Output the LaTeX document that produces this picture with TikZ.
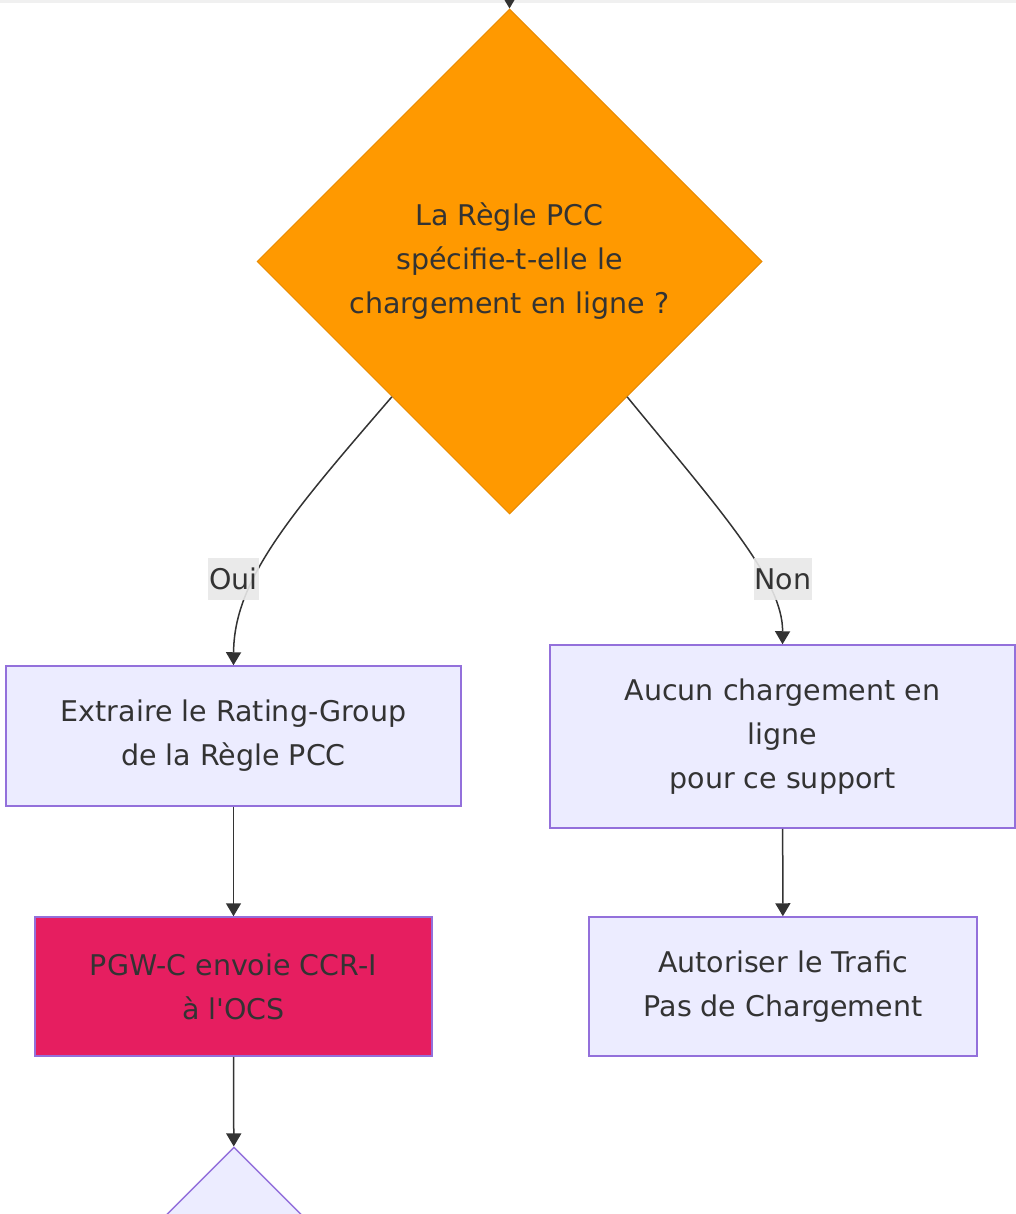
\documentclass[tikz,border=0pt]{standalone}
\usepackage{fontspec}
\setmainfont{DejaVu Sans}
\usepackage{tikz}
\usetikzlibrary{graphs}
\usetikzlibrary{arrows.meta}
\usetikzlibrary{shapes.geometric}
\usepackage{xcolor}
\definecolor{ink}{HTML}{333333}
\definecolor{lav}{HTML}{ECECFF}
\definecolor{lavline}{HTML}{9370DB}
\definecolor{orng}{HTML}{FF9900}
\definecolor{orngline}{HTML}{E88A00}
\definecolor{pink}{HTML}{E61E60}
\definecolor{lblbg}{HTML}{E8E8E8}

\begin{document}
\begin{tikzpicture}[x=1pt, y=-1pt,
        txt/.style={font=\fontsize{28.5}{44}\selectfont, text=ink, align=center},
        box/.style={txt, rectangle, draw=lavline, fill=lav, line width=1.5pt, inner sep=0pt},
        lbl/.style={txt, fill=lblbg, fill opacity=0.9, text opacity=1, inner xsep=1pt, inner ysep=0pt, minimum height=42pt},
        link/.style={draw=ink, line width=1.5pt},
        >={Triangle[length=13pt, width=15pt]}]
        \useasboundingbox (0, 0) rectangle (1016, 1214);
        \clip (0, 0) rectangle (1016, 1214);
        \fill[gray!12] (0, 0) rectangle (1016, 3);

        \node[txt, diamond, aspect=1, draw=orngline, fill=orng, line width=1pt, inner sep=0pt,
              minimum width=505pt, minimum height=505pt] (rule) at (509.5, 261.5)
              {La Règle PCC\\spécifie-t-elle le\\chargement en ligne ?};
        \node[box, minimum width=455pt, minimum height=140pt] (extract) at (233.5, 736)
              {Extraire le Rating-Group\\de la Règle PCC};
        \node[box, minimum width=465pt, minimum height=183pt] (none) at (782.5, 736.5)
              {Aucun chargement en\\ligne\\pour ce support};
        \node[box, fill=pink, minimum width=397pt, minimum height=139pt] (ccr) at (233.5, 986.5)
              {PGW-C envoie CCR-I\\à l\textquotesingle OCS};
        \node[box, minimum width=388pt, minimum height=139pt] (allow) at (783, 986.5)
              {Autoriser le Trafic\\Pas de Chargement};
        \node[box, diamond, aspect=1, minimum width=260pt, minimum height=260pt] (next) at (234, 1277) {};
        \coordinate (in) at (509.5, -12);

        \graph {(in)      ->[link] (rule)};
        \graph {(extract) ->[link] (ccr)};
        \graph {(none)    ->[link] (allow)};
        \graph {(ccr)     ->[link] (next)};
        \draw[link, ->] (rule.-131) .. controls (290, 515) and (234, 580) .. (extract.north);
        \draw[link, ->] (rule.-49) .. controls (720, 510) and (783, 580) .. (none.north);

        \node[lbl] (oui) at (233.5, 579) {Oui};
        \node[lbl] (non) at (783, 579) {Non};
    \end{tikzpicture}
\end{document}
